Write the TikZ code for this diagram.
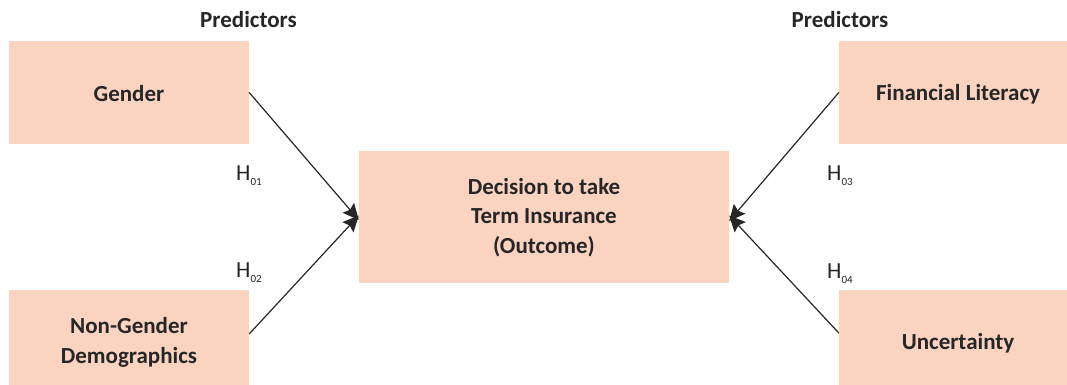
\documentclass[tikz,border=0pt]{standalone}
\usepackage{fontspec}
\setmainfont{Carlito}
\usetikzlibrary{arrows.meta}
\definecolor{boxfill}{RGB}{251,212,193}
\definecolor{txt}{RGB}{38,38,38}
\newcommand{\hsub}[1]{H\raisebox{-5pt}{\fontsize{11}{11}\selectfont #1}}
\tikzset{
  factor/.style={fill=boxfill, draw=none, inner sep=0pt},
  ftext/.style={align=center, inner sep=0pt,
    font=\fontsize{23}{29.5}\selectfont\bfseries, text=txt},
  lbl/.style={font=\fontsize{23}{28}\selectfont\bfseries, text=txt, inner sep=0pt},
  hyp/.style={font=\fontsize{23}{26}\selectfont, text=txt, inner sep=0pt},
  link/.style={line width=1.2pt, draw=txt, -{Stealth[length=16pt,width=15pt,inset=2.5pt]}}
}
\begin{document}
\begin{tikzpicture}[x=1pt,y=-1pt]
\useasboundingbox (0,0) rectangle (1067,385);
\node[factor, minimum width=240pt, minimum height=103pt,
  label={[ftext, yshift=-1pt]center:Gender}] (gender) at (129,92.5) {};
\node[factor, minimum width=240pt, minimum height=95pt,
  label={[ftext, yshift=-5pt]center:Non-Gender\\Demographics}] (nongender) at (129,337.5) {};
\node[factor, minimum width=228pt, minimum height=103pt,
  label={[ftext, yshift=-1.5pt, xshift=5pt]center:Financial Literacy}] (finlit) at (953,92.5) {};
\node[factor, minimum width=228pt, minimum height=95pt,
  label={[ftext, yshift=-6pt, xshift=5pt]center:Uncertainty}] (uncert) at (953,337.5) {};
\node[factor, minimum width=370pt, minimum height=132pt,
  label={[ftext, yshift=-0.5pt]center:Decision to take\\Term Insurance\\(Outcome)}] (decision) at (544,217) {};
\node[lbl] (predL) at (248.5,20) {Predictors};
\node[lbl] (predR) at (840,20) {Predictors};
\node[hyp, anchor=base west] (h1) at (236,180) {\hsub{01}};
\node[hyp, anchor=base west] (h2) at (236,277) {\hsub{02}};
\node[hyp, anchor=base west] (h3) at (827,180) {\hsub{03}};
\node[hyp, anchor=base west] (h4) at (827,278) {\hsub{04}};
\draw[link] (gender.east) -- ([yshift=-3pt]decision.west);
\draw[link] ([yshift=3.5pt]nongender.east) -- ([yshift=1.5pt]decision.west);
\draw[link] (finlit.west) -- ([yshift=-4pt]decision.east);
\draw[link] ([yshift=4.5pt]uncert.west) -- ([yshift=1.5pt]decision.east);
\end{tikzpicture}
\end{document}
